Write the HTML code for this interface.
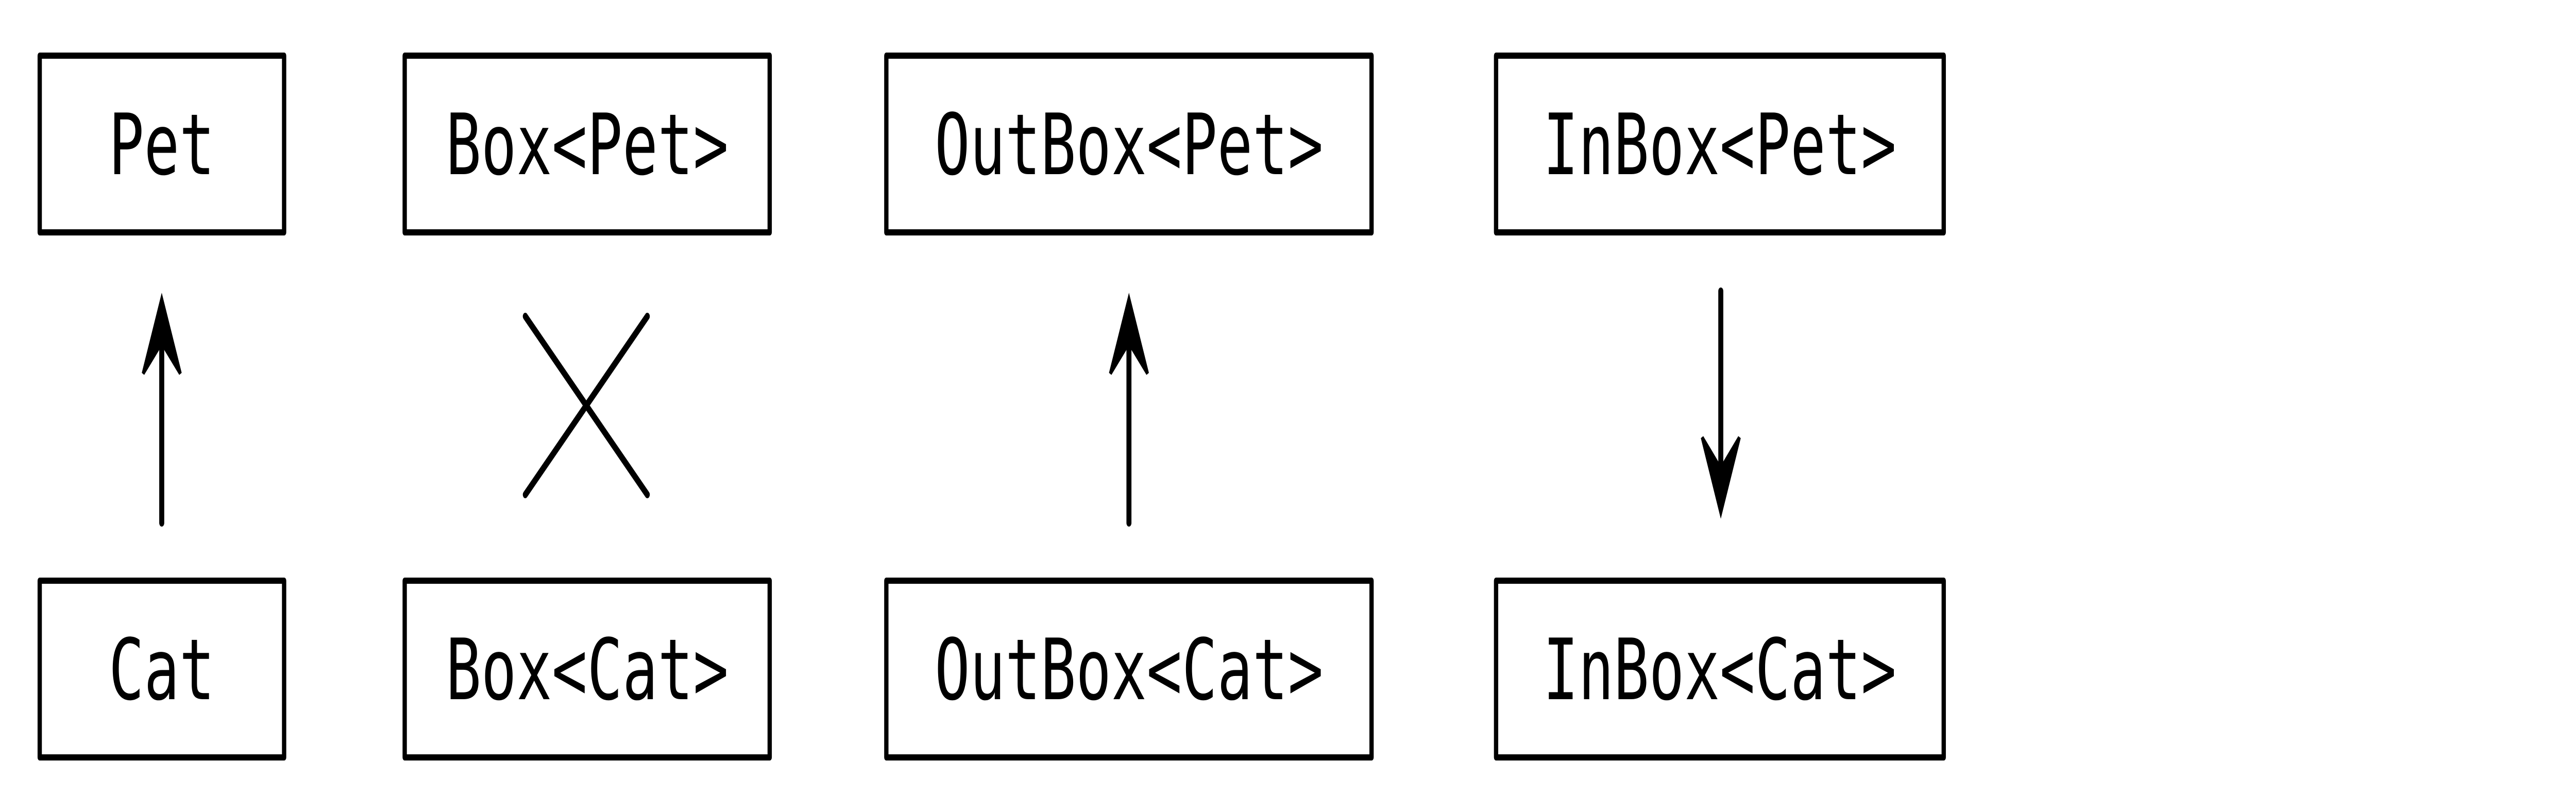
<!DOCTYPE html>
<html><head><style>
html,body{margin:0;padding:0;background:#fff;width:100%;height:100%;overflow:hidden;}
svg{display:block;width:100vw;height:100vh;}
text{font-family:"DejaVu Sans Mono","Liberation Mono",monospace;font-size:164px;fill:#000;}
</style></head><body>
<svg viewBox="0 0 7199 1574" preserveAspectRatio="none" xmlns="http://www.w3.org/2000/svg">
<g fill="none" stroke="#000" stroke-width="12" stroke-linejoin="round">
<rect x="111" y="108" width="683" height="343"/>
<rect x="1131" y="108" width="1020" height="343"/>
<rect x="2477" y="108" width="1356" height="343"/>
<rect x="4181" y="108" width="1251" height="343"/>
<rect x="111" y="1127" width="683" height="343"/>
<rect x="1131" y="1127" width="1020" height="343"/>
<rect x="2477" y="1127" width="1356" height="343"/>
<rect x="4181" y="1127" width="1251" height="343"/>
</g>
<g stroke="#000" stroke-width="14" stroke-linecap="round" fill="none">
<line x1="452" y1="1015" x2="452" y2="640"/>
<line x1="3155" y1="1015" x2="3155" y2="640"/>
<line x1="4809" y1="565" x2="4809" y2="930"/>
<line x1="1468" y1="614" x2="1809" y2="960"/>
<line x1="1809" y1="614" x2="1468" y2="960"/>
</g>
<g fill="#000" stroke="#000" stroke-width="8" stroke-linejoin="miter">
<path d="M400,725 L452,580 L504,725 L452,665 Z"/>
<path d="M3103,725 L3155,580 L3207,725 L3155,665 Z"/>
<path d="M4757,849 L4809,995 L4861,849 L4809,910 Z"/>
</g>
<g text-anchor="middle">
<text x="452" y="338">Pet</text>
<text x="1641" y="338">Box&lt;Pet&gt;</text>
<text x="3155" y="338">OutBox&lt;Pet&gt;</text>
<text x="4806" y="338">InBox&lt;Pet&gt;</text>
<text x="452" y="1357">Cat</text>
<text x="1641" y="1357">Box&lt;Cat&gt;</text>
<text x="3155" y="1357">OutBox&lt;Cat&gt;</text>
<text x="4806" y="1357">InBox&lt;Cat&gt;</text>
</g>
</svg>
</body></html>
